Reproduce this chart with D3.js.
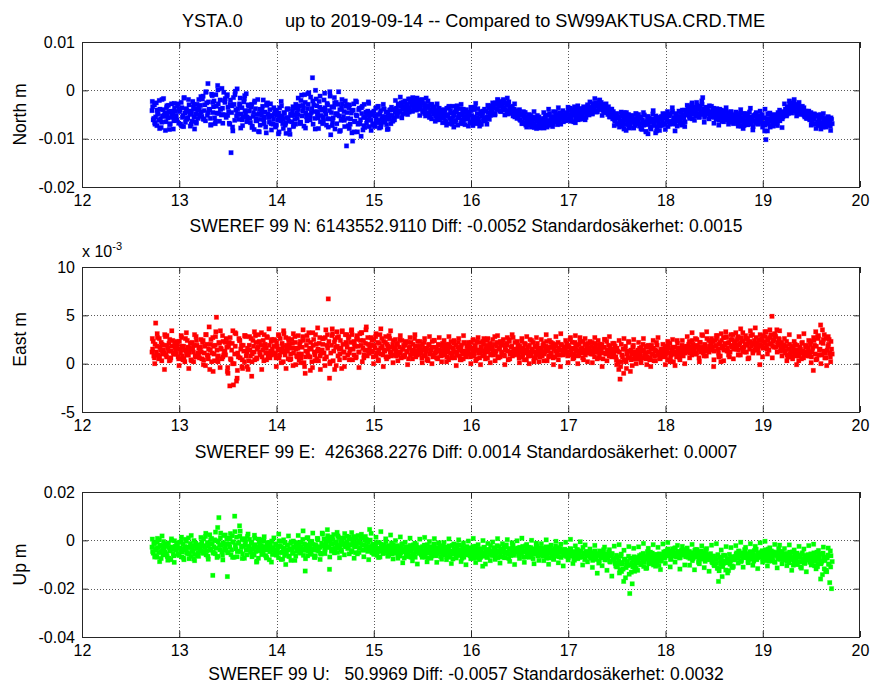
<!DOCTYPE html>
<html><head><meta charset="utf-8">
<script src="https://cdn.jsdelivr.net/npm/d3@7"></script>
<style>
body{margin:0;background:#fff}
text{font-family:"Liberation Sans",Arial,Helvetica,sans-serif;fill:#000}
</style>
</head><body>
<svg id="c" width="872" height="686"></svg>
<script>
// ---------- data ----------
const titleLeft = "YSTA.0";
const titleRight = "up to 2019-09-14 -- Compared to SW99AKTUSA.CRD.TME";
const xTicks = [12,13,14,15,16,17,18,19,20];
const northTicks = [0.01,0,-0.01,-0.02];
const eastTicks = [10,5,0,-5];
const upTicks = [0.02,0,-0.02,-0.04];
const yLabels = ["North m","East m","Up m"];
const xLabels = [
  "SWEREF 99 N: 6143552.9110 Diff: -0.0052 Standardosäkerhet: 0.0015",
  "SWEREF 99 E:  426368.2276 Diff: 0.0014 Standardosäkerhet: 0.0007",
  "SWEREF 99 U:   50.9969 Diff: -0.0057 Standardosäkerhet: 0.0032"
];
// observation epochs (decimal year minus 2000): sets A and B at tStep (B offset half a step), set C at 2*tStep
const tStart = 12.72, tStep = 0.0125;
// North residuals, mm
const northMM = [
-4.2,-6.1,-3.0,-5.5,-7.3,-4.8,-2.1,-5.9,-6.6,-4.0,-5.2,-8.3,-3.6,-5.7,-4.5,-6.9,-2.8,-5.0,-6.3,-4.4,
-5.3,-3.2,-6.8,-4.1,-2.5,-5.6,-7.5,-4.7,-3.8,-6.0,-1.9,-5.0,-4.3,-6.4,-3.5,-8.0,-4.9,-2.9,-5.8,-4.0,
-3.1,-5.4,-1.2,-4.2,-6.3,-2.6,1.4,-3.9,-5.8,-0.8,-4.6,-2.2,-6.9,-3.3,1.0,-4.8,-2.0,-5.1,-3.7,-0.4,
-2.5,-5.6,-0.9,-4.4,-7.0,-12.9,-3.2,-1.5,-6.2,-4.1,0.3,-5.0,-2.8,-7.8,-3.6,-5.5,-1.8,-4.7,-6.5,-3.0,
-4.3,-6.7,-2.9,-5.4,-8.1,-3.8,-5.9,-1.9,-4.8,-7.2,-5.1,-3.3,-6.1,-4.5,-8.8,-2.6,-5.6,-4.0,-6.9,-5.3,
-6.0,-4.4,-7.4,-5.2,-9.0,-3.6,-6.3,-5.5,-7.9,-4.7,-6.8,-3.9,-5.8,-8.2,-4.9,-6.5,-3.4,-5.1,-7.0,-4.6,
-5.0,-3.2,-6.6,-1.0,-4.3,-7.4,-2.5,-5.5,-3.8,-0.5,-6.1,-4.6,2.6,-3.0,-5.8,-1.8,-4.9,-7.9,-3.5,-5.2,
-3.9,-6.3,-0.6,-5.0,-2.7,-7.6,-4.2,-9.2,-3.4,-5.7,-1.5,-4.8,-6.9,-2.9,-5.3,-8.3,-3.7,-6.0,-4.4,-2.2,
-11.5,-5.8,-3.6,-7.0,-4.7,-10.5,-2.8,-6.4,-5.1,-8.6,-4.0,-6.9,-9.5,-3.3,-5.6,-7.7,-4.5,-6.1,-2.4,-5.4,
-6.2,-4.6,-7.3,-5.3,-3.7,-6.7,-5.0,-7.8,-4.2,-5.9,-6.5,-3.9,-5.5,-7.1,-4.8,-6.0,-5.2,-3.5,-6.4,-5.6,
-4.6,-3.7,-5.4,-3.1,-4.2,-2.6,-4.9,-3.4,-2.2,-4.0,-3.0,-1.8,-3.6,-2.5,-4.3,-2.0,-3.3,-2.7,-1.6,-3.9,
-2.4,-3.8,-1.9,-4.5,-3.0,-5.3,-3.6,-2.2,-4.8,-4.0,-5.9,-3.4,-4.6,-6.4,-4.2,-5.1,-3.7,-5.6,-4.9,-6.7,
-5.5,-4.1,-6.6,-5.0,-3.6,-5.8,-4.7,-7.0,-5.3,-4.4,-6.2,-3.2,-5.6,-4.9,-6.9,-5.1,-3.9,-6.0,-5.4,-4.6,
-5.9,-4.5,-6.8,-5.2,-7.3,-4.0,-6.1,-5.6,-3.8,-6.5,-5.0,-7.0,-4.7,-5.8,-6.3,-4.3,-5.5,-3.6,-4.9,-4.1,
-4.5,-3.6,-5.1,-2.9,-4.0,-3.3,-2.4,-4.4,-3.0,-1.9,-3.7,-2.6,-4.2,-3.1,-4.8,-3.5,-4.6,-5.3,-3.9,-5.0,
-4.9,-5.7,-4.3,-6.2,-5.0,-6.8,-5.4,-4.6,-6.5,-7.1,-5.8,-6.3,-7.6,-5.5,-6.9,-6.0,-7.3,-5.2,-6.6,-7.8,
-6.5,-7.3,-5.8,-6.9,-5.1,-7.6,-6.2,-4.8,-6.6,-5.5,-7.0,-5.9,-4.5,-6.1,-5.3,-6.7,-4.9,-5.6,-4.2,-5.8,
-5.4,-4.6,-6.2,-5.0,-3.7,-5.7,-4.3,-6.5,-4.9,-5.3,-3.9,-4.7,-6.0,-4.1,-5.1,-3.4,-4.5,-5.6,-3.8,-4.4,
-4.2,-3.5,-4.8,-3.0,-3.9,-2.6,-4.4,-3.3,-2.1,-3.7,-2.9,-4.1,-3.2,-4.6,-3.8,-5.0,-4.3,-5.5,-4.7,-5.9,
-5.6,-6.4,-4.9,-7.0,-5.8,-6.6,-4.5,-7.4,-6.1,-5.3,-8.3,-6.8,-5.0,-7.2,-6.3,-5.5,-7.7,-6.0,-4.8,-6.9,
-6.2,-7.4,-5.5,-8.1,-6.8,-5.1,-7.1,-6.4,-9.0,-5.8,-7.6,-6.5,-4.9,-7.0,-6.1,-8.4,-5.6,-6.9,-7.3,-5.4,
-6.3,-5.2,-7.1,-5.7,-4.4,-6.6,-5.0,-6.9,-3.6,-5.9,-6.2,-4.8,-7.4,-5.4,-6.0,-4.6,-5.5,-6.7,-4.1,-5.1,
-4.9,-3.8,-5.4,-4.2,-3.0,-5.0,-3.5,-4.6,-2.5,-4.0,-5.6,-3.3,-4.4,-1.5,-3.9,-5.2,-4.1,-3.6,-4.8,-5.5,
-4.4,-5.3,-3.7,-4.9,-6.0,-4.6,-5.7,-3.9,-5.1,-6.4,-4.8,-5.5,-4.2,-6.1,-5.0,-5.8,-4.5,-6.6,-5.3,-5.9,
-6.3,-5.1,-6.9,-5.6,-4.7,-6.5,-5.9,-7.3,-5.3,-6.2,-4.9,-6.7,-5.5,-7.0,-6.0,-5.2,-6.4,-4.6,-5.8,-6.8,
-5.6,-6.5,-5.0,-7.1,-8.4,-10.2,-5.8,-6.9,-4.8,-6.3,-5.4,-7.4,-6.1,-5.2,-6.7,-4.6,-5.9,-5.1,-4.4,-5.5,
-4.8,-3.9,-5.3,-3.4,-4.4,-2.7,-3.7,-4.2,-2.3,-3.5,-4.6,-3.0,-3.8,-5.0,-4.1,-3.3,-4.9,-5.5,-4.3,-5.8,
-5.2,-6.1,-4.6,-6.6,-5.7,-4.9,-6.9,-5.4,-7.3,-6.2,-5.0,-6.7,-7.6,-5.8,-6.4,-7.1,-5.5,-6.8,-7.4,-6.0
];
const northMMb = [
-3.4,-5.8,-7.0,-2.6,-4.9,-6.2,-3.9,-7.7,-5.3,-1.7,-4.6,-6.5,-5.0,-3.1,-7.1,-4.3,-5.6,-8.0,-3.7,-6.0,
-6.2,-2.8,-4.4,-7.0,-3.6,-5.2,-1.5,-6.6,-4.0,-5.7,-3.0,-7.4,-4.8,-2.3,-5.5,-3.9,-6.8,-4.2,-1.9,-5.1,
-4.5,-1.8,-6.0,-3.0,-0.3,-5.2,-2.4,-4.0,-7.1,-1.1,-3.4,-5.7,-0.9,-4.7,-2.8,-6.4,-3.9,0.4,-5.0,-2.1,
-5.1,-1.2,-3.5,-6.8,-2.0,-4.6,-8.4,-2.9,-0.2,-5.3,-3.8,-6.0,-1.6,-4.9,-7.3,-2.4,-4.2,-0.7,-5.8,-3.3,
-5.8,-3.5,-7.4,-4.6,-2.2,-6.3,-5.0,-8.5,-3.9,-6.0,-4.4,-2.0,-5.5,-7.6,-3.1,-4.9,-6.6,-2.8,-5.2,-7.0,
-5.0,-7.6,-4.1,-6.1,-8.6,-5.3,-3.2,-6.9,-4.6,-7.2,-5.6,-3.8,-6.4,-9.1,-5.1,-4.3,-7.3,-6.0,-3.7,-5.8,
-4.0,-6.9,-2.1,-5.3,-3.6,-0.9,-4.7,-6.3,-2.9,-5.1,-1.4,-3.8,-7.0,-4.4,0.0,-3.2,-5.7,-2.3,-6.5,-4.1,
-5.5,-2.0,-4.3,-7.2,-3.0,-5.9,-1.2,-4.6,-6.6,-3.5,-8.0,-2.5,-5.1,-0.3,-4.0,-6.2,-2.8,-5.4,-7.5,-3.3,
-4.6,-7.3,-3.0,-5.9,-8.8,-4.1,-6.5,-2.2,-5.3,-7.0,-3.7,-6.1,-4.8,-8.2,-2.9,-5.6,-6.8,-4.3,-7.5,-5.0,
-5.0,-6.9,-4.3,-7.5,-5.8,-3.4,-6.2,-4.8,-7.0,-5.4,-3.8,-6.6,-4.5,-8.1,-5.7,-4.1,-6.9,-5.2,-4.0,-6.1,
-3.9,-5.1,-2.8,-4.4,-3.3,-5.7,-2.5,-3.9,-4.8,-2.9,-3.6,-4.5,-2.2,-3.1,-1.5,-3.8,-2.4,-4.1,-3.0,-2.2,
-3.1,-2.0,-4.2,-2.7,-3.9,-1.6,-4.6,-3.3,-5.5,-2.9,-4.4,-5.0,-3.7,-5.4,-2.8,-4.7,-6.1,-4.1,-5.8,-4.5,
-4.8,-6.3,-3.7,-5.4,-6.9,-4.2,-5.9,-3.3,-5.1,-6.6,-4.5,-7.2,-5.3,-3.8,-6.1,-4.6,-5.7,-7.1,-4.0,-5.5,
-5.1,-6.6,-4.2,-6.1,-5.5,-3.5,-6.9,-4.8,-5.9,-7.4,-4.4,-5.4,-6.3,-3.9,-5.6,-7.0,-4.6,-6.0,-5.2,-3.2,
-3.5,-4.8,-2.6,-3.8,-2.0,-3.2,-4.3,-2.7,-3.6,-2.3,-4.1,-3.0,-4.9,-2.4,-3.9,-4.4,-3.3,-4.7,-5.5,-4.2,
-5.4,-4.6,-6.0,-5.1,-6.5,-4.4,-5.8,-7.2,-5.5,-6.1,-7.0,-5.2,-6.7,-6.0,-7.7,-5.6,-6.4,-7.4,-5.9,-6.9,
-7.0,-6.1,-7.8,-5.5,-6.4,-7.2,-5.2,-6.8,-5.9,-7.5,-5.4,-6.3,-5.0,-7.1,-5.8,-4.6,-6.0,-5.3,-6.5,-5.0,
-4.8,-5.9,-4.2,-5.4,-6.4,-4.5,-5.1,-3.4,-5.7,-4.3,-6.1,-5.0,-3.8,-5.3,-4.6,-5.9,-4.0,-4.9,-3.3,-5.1,
-3.8,-4.6,-2.7,-4.0,-3.2,-4.5,-2.9,-3.6,-4.0,-2.5,-3.4,-4.4,-3.6,-2.8,-4.2,-3.4,-4.8,-3.9,-5.2,-4.4,
-6.2,-5.1,-6.9,-5.5,-7.6,-6.3,-5.4,-6.8,-4.6,-7.1,-6.0,-5.7,-7.8,-6.4,-5.2,-6.7,-5.8,-7.3,-6.5,-5.6,
-6.9,-5.8,-7.8,-6.1,-7.2,-6.6,-8.6,-5.5,-7.0,-6.3,-8.0,-5.9,-7.3,-6.8,-5.3,-7.6,-6.2,-8.3,-6.0,-7.1,
-5.5,-6.9,-4.9,-6.1,-7.5,-5.3,-6.4,-4.6,-6.8,-5.6,-7.0,-5.1,-6.3,-4.3,-6.0,-7.2,-5.0,-5.8,-6.5,-4.7,
-4.2,-5.1,-3.4,-4.7,-5.9,-3.9,-4.4,-5.3,-3.1,-4.8,-3.7,-5.0,-2.9,-4.5,-5.6,-3.5,-4.9,-4.3,-3.2,-5.2,
-5.0,-4.1,-5.6,-4.7,-3.8,-5.3,-6.2,-4.4,-5.9,-5.0,-4.3,-6.0,-5.2,-4.6,-6.5,-5.5,-4.9,-5.8,-6.3,-5.1,
-5.9,-6.8,-5.0,-6.2,-7.4,-5.6,-4.8,-6.6,-5.4,-7.1,-6.0,-4.5,-6.3,-5.7,-7.5,-5.3,-6.7,-5.9,-7.0,-5.2,
-6.1,-5.3,-6.8,-5.7,-7.2,-6.4,-4.9,-6.0,-7.6,-5.5,-6.6,-5.0,-6.9,-5.8,-7.3,-5.2,-6.3,-4.7,-5.9,-4.9,
-5.1,-4.3,-3.7,-4.8,-3.0,-4.1,-3.4,-2.6,-3.9,-3.1,-4.4,-2.9,-4.2,-3.5,-4.7,-3.8,-5.2,-4.5,-5.0,-5.4,
-5.6,-4.8,-6.3,-5.3,-6.0,-7.0,-5.1,-6.5,-5.9,-6.8,-7.4,-5.6,-6.2,-7.0,-6.6,-5.9,-7.2,-6.3,-5.7,-6.9
];
const northMMc = [
-2.3,-6.7,-4.1,-7.9,-1.9,-5.4,-3.2,-8.1,-5.0,-2.7,-6.2,-3.9,-7.4,-1.6,-5.8,-4.4,-7.0,-2.9,-6.5,-3.5,
-1.3,-5.9,-0.4,-4.6,-7.2,-2.5,-6.4,0.1,-3.9,-6.8,-1.7,-5.2,-2.9,-7.6,-0.9,-4.8,-3.1,-6.1,-1.1,-5.5,
-3.2,-7.7,-2.5,-6.3,-8.6,-4.1,-6.9,-2.8,-5.6,-8.2,-3.6,-7.1,-4.7,-2.3,-6.0,-8.9,-3.9,-5.2,-7.5,-2.9,
-1.6,-6.6,-3.1,-7.8,-0.7,-5.3,-2.2,-8.0,-4.4,-1.2,-6.9,-3.6,-5.9,-0.3,-7.3,-2.6,-4.9,-8.5,-1.9,-6.2,
-3.0,-7.9,-4.2,-8.6,-2.4,-6.8,-3.6,-7.3,-5.1,-2.7,-8.3,-4.6,-6.4,-3.3,-7.6,-2.9,-5.7,-8.0,-4.0,-6.2,
-2.1,-4.6,-1.4,-3.9,-2.5,-5.0,-1.8,-4.3,-2.7,-3.6,-5.2,-2.2,-4.8,-3.1,-5.6,-2.9,-4.4,-6.1,-3.8,-5.3,
-4.0,-7.2,-3.3,-6.1,-7.6,-3.8,-5.7,-2.9,-6.8,-4.5,-7.4,-3.5,-6.5,-2.7,-5.9,-7.0,-4.3,-6.3,-3.1,-5.0,
-2.6,-4.9,-1.9,-4.2,-2.3,-5.1,-1.6,-3.7,-4.5,-2.8,-5.8,-4.0,-6.9,-4.6,-7.6,-5.0,-7.2,-4.4,-7.9,-5.5,
-7.4,-4.6,-6.8,-3.9,-7.2,-4.4,-6.5,-3.6,-7.0,-5.1,-6.3,-3.5,-5.9,-4.0,-6.7,-3.2,-5.4,-3.8,-6.1,-3.0,
-2.4,-4.9,-1.7,-4.4,-2.0,-5.2,-3.0,-4.6,-5.5,-3.9,-7.3,-4.8,-6.9,-5.0,-8.0,-4.6,-7.5,-5.3,-7.8,-4.9,
-5.0,-7.9,-4.6,-8.5,-5.4,-7.6,-4.2,-8.8,-5.7,-7.3,-4.8,-8.1,-5.2,-7.0,-4.4,-8.4,-5.9,-6.8,-4.1,-7.5,
-3.1,-5.8,-2.6,-6.2,-3.4,-5.5,-2.2,-6.6,-3.7,-5.9,-3.3,-6.8,-3.9,-7.2,-4.1,-6.5,-3.6,-7.0,-4.4,-6.9,
-4.5,-7.4,-4.0,-7.9,-4.8,-7.1,-3.7,-8.2,-5.0,-6.9,-4.3,-7.6,-3.9,-8.4,-4.7,-7.3,-5.2,-6.6,-4.1,-7.7,
-2.8,-5.0,-2.2,-4.7,-1.9,-5.3,-2.5,-4.4,-3.6,-5.8,-4.3,-7.2,-4.9,-7.9,-5.2,-8.0,-4.8,-7.6,-5.5,-8.3
];
// East residuals, mm
const eastMM = [
1.2,2.3,0.6,4.2,1.8,0.9,2.6,1.4,0.3,1.9,1.1,2.8,0.7,1.6,2.1,0.4,1.3,2.4,1.0,1.7,
1.0,2.0,0.5,1.5,2.9,0.8,1.8,0.2,1.3,2.4,0.9,1.6,0.4,2.2,1.2,3.0,0.7,1.9,1.1,0.6,
1.7,0.5,2.4,1.1,-0.2,2.0,0.8,3.8,1.4,0.2,2.7,1.0,1.9,4.8,0.6,2.2,-0.4,1.5,2.9,0.9,
1.3,2.6,-0.8,1.8,-2.3,0.4,2.1,-2.2,1.0,3.1,-1.5,0.7,2.4,1.5,-0.3,1.9,0.2,2.8,1.2,-0.6,
1.9,0.8,-1.3,2.4,1.2,2.9,0.5,1.7,2.2,0.9,3.2,1.4,0.3,2.0,1.6,2.7,1.1,0.6,2.3,1.5,
1.1,2.4,0.6,1.8,3.0,0.9,1.5,2.1,0.2,1.3,2.7,1.7,0.5,2.0,1.0,2.5,-0.2,1.6,2.2,0.8,
1.6,0.4,2.3,1.0,2.8,0.1,-1.0,1.9,1.2,3.2,0.7,1.5,-0.4,2.5,0.9,2.0,1.3,0.3,2.7,1.1,
1.4,2.6,0.5,3.5,1.9,6.7,-1.5,1.1,2.9,0.3,2.2,1.7,3.3,0.8,1.5,2.4,-0.5,2.0,1.2,3.0,
2.1,0.9,2.8,1.5,3.4,0.4,2.3,1.8,0.7,2.6,1.2,3.1,1.9,0.2,2.4,1.4,3.5,0.8,2.0,1.6,
1.3,2.4,0.7,1.9,2.8,1.1,0.4,2.1,1.6,2.6,0.9,1.4,2.2,0.5,1.8,2.9,1.2,0.8,2.0,1.5,
1.6,0.8,2.1,1.2,2.5,0.6,1.5,1.9,0.9,2.3,1.3,0.5,1.7,2.2,1.0,1.4,2.6,0.7,1.8,1.1,
1.0,1.8,0.6,1.4,2.2,0.9,1.6,0.3,2.0,1.2,1.7,0.7,2.4,1.1,1.5,0.5,1.9,1.3,0.8,2.1,
1.5,0.9,2.0,1.2,0.4,1.7,2.3,1.0,1.4,0.6,1.9,1.1,2.2,0.8,1.6,1.3,0.5,2.1,1.0,1.8,
1.2,2.0,0.7,1.6,2.4,1.0,1.8,0.5,1.4,2.2,1.1,1.7,0.8,2.6,1.3,1.9,0.6,1.5,2.1,0.9,
1.7,0.9,2.8,1.3,2.2,0.6,1.6,2.0,1.1,2.5,0.8,1.4,1.9,0.4,2.3,1.2,1.8,2.7,1.0,1.5,
1.1,1.9,0.6,1.5,2.3,0.9,1.3,2.0,0.4,1.7,1.2,2.5,0.8,1.4,0.2,1.8,1.0,2.1,1.3,0.7,
1.6,0.8,2.1,1.2,1.8,0.3,1.5,2.4,1.0,1.7,0.6,2.0,1.3,0.9,2.2,1.4,-0.3,1.9,1.1,1.6,
1.3,2.1,0.8,1.7,2.5,1.0,1.5,0.6,2.2,1.4,1.9,0.9,2.7,1.2,1.6,0.4,2.0,1.3,1.8,1.1,
1.6,1.0,2.2,1.3,0.7,1.9,1.2,2.4,0.9,1.5,2.0,0.5,1.7,1.1,2.3,1.4,0.8,1.8,1.2,2.1,
1.0,1.8,0.4,1.3,-0.6,-1.6,2.0,0.7,-1.0,1.5,0.2,1.1,2.3,0.6,1.4,-0.2,1.9,0.9,1.2,0.5,
1.0,1.6,0.5,1.3,2.0,0.8,1.1,-0.1,1.7,1.2,0.6,1.9,1.0,0.3,1.4,2.2,0.9,1.2,0.5,1.5,
1.4,0.7,1.8,1.1,0.4,1.6,2.1,0.9,1.3,0.2,1.7,1.0,2.4,1.2,0.6,1.5,1.9,0.8,1.3,1.6,
1.8,1.2,2.3,1.5,0.9,2.0,1.4,2.6,1.1,1.7,0.6,2.2,1.6,2.9,1.3,1.9,0.8,1.5,2.4,1.7,
2.0,1.4,-0.3,2.4,1.8,2.9,1.1,2.2,0.2,1.6,2.7,1.9,3.3,1.3,2.1,0.7,2.5,1.7,3.0,2.3,
2.2,1.5,2.8,1.9,0.9,2.4,3.2,1.7,2.0,1.2,2.6,0.6,2.3,1.8,3.0,2.1,1.4,2.7,1.9,1.1,
-0.1,2.4,1.8,2.9,2.1,3.3,1.5,2.6,2.0,3.0,4.9,2.3,1.7,2.8,3.5,1.9,2.5,1.3,2.2,1.6,
1.9,1.1,2.3,0.7,1.5,1.0,1.8,0.5,1.3,2.0,0.8,1.4,0.3,1.7,1.1,2.2,0.6,1.2,1.9,0.9,
1.6,0.8,2.3,1.2,-0.7,1.9,3.3,0.5,2.6,1.4,4.0,0.9,2.1,3.0,1.1,-0.2,1.8,2.5,0.7,1.5
];
const eastMMb = [
1.5,0.8,2.0,1.2,2.7,0.5,1.7,2.2,1.0,1.4,3.0,0.9,1.9,1.3,2.5,0.6,1.8,1.1,2.1,1.4,
1.6,0.7,2.3,1.1,1.8,0.4,1.4,2.6,0.9,1.7,1.2,2.1,0.3,1.5,1.9,0.8,2.4,1.0,1.6,1.3,
1.2,2.2,0.4,1.8,3.0,0.9,1.5,-0.6,2.5,1.1,1.8,0.3,3.3,1.4,0.8,2.1,1.6,0.5,2.3,1.2,
0.9,1.7,-1.0,2.2,0.5,1.4,3.4,0.0,1.8,-1.8,1.1,2.6,0.6,1.9,-0.5,1.3,2.9,0.8,1.6,0.3,
1.4,2.6,1.0,1.8,0.4,2.2,1.5,3.0,1.2,1.9,0.7,2.4,1.6,1.1,2.8,0.8,1.9,1.3,2.5,1.0,
1.8,1.0,2.2,1.4,0.6,2.6,1.2,1.7,3.1,0.9,1.9,1.3,2.4,0.4,1.6,2.1,1.1,2.8,1.5,0.7,
1.0,2.0,0.6,1.7,2.4,-0.3,1.3,2.9,0.8,1.6,2.2,0.2,1.9,1.2,3.0,0.5,1.5,2.1,-0.6,1.4,
2.0,1.1,2.7,0.7,1.6,2.3,0.2,1.9,3.1,1.3,2.5,-0.2,1.8,2.8,1.0,1.6,3.4,1.2,0.6,2.2,
1.7,2.6,1.1,2.2,3.0,1.5,2.0,0.6,2.9,1.8,1.2,2.4,3.2,1.6,0.9,2.1,1.4,2.7,1.1,1.9,
1.9,1.2,2.5,1.6,0.8,2.2,1.4,3.0,1.0,1.8,2.3,1.3,0.7,2.0,1.5,2.6,1.1,1.7,2.4,0.9,
1.3,2.0,0.9,1.7,1.1,2.4,1.5,0.7,1.9,1.2,2.2,1.6,0.9,1.4,2.0,1.0,1.8,1.3,2.3,1.5,
1.5,1.1,2.0,0.8,1.6,1.3,0.5,1.9,1.0,1.4,2.3,0.9,1.7,1.2,0.6,2.0,1.4,1.0,1.8,1.3,
1.2,1.8,0.7,1.5,2.0,1.1,0.8,1.6,2.4,1.2,0.9,1.7,1.4,0.4,1.9,1.0,2.2,1.3,0.7,1.5,
1.6,1.0,2.2,1.3,0.8,1.9,1.4,2.3,1.1,0.6,1.7,1.3,2.0,0.9,1.5,2.4,1.2,1.8,1.0,1.6,
1.3,2.0,1.1,1.8,0.7,1.5,2.3,1.2,1.9,0.9,1.6,2.1,1.3,2.5,1.0,1.7,0.8,1.4,2.2,1.2,
1.5,1.0,1.8,1.2,0.7,1.6,2.1,1.1,1.4,0.8,1.9,1.0,1.5,2.2,1.2,0.6,1.7,1.4,0.9,1.6,
1.2,1.9,1.0,1.6,2.3,1.3,0.8,1.7,1.1,2.1,1.5,0.7,1.8,1.2,1.6,0.9,2.0,1.4,1.0,1.7,
1.7,1.2,1.9,0.9,1.4,2.2,1.6,1.0,1.8,1.3,0.8,2.0,1.5,1.1,2.3,1.4,0.9,1.7,2.1,1.2,
1.3,1.8,1.0,1.6,2.1,1.2,1.5,0.6,1.9,1.3,1.1,1.7,2.5,1.0,1.4,1.9,1.2,0.8,1.5,1.3,
1.4,0.7,1.6,0.2,1.2,-0.3,0.9,1.5,0.4,1.8,1.0,0.6,1.3,-0.8,1.0,1.7,0.5,1.2,0.8,1.4,
1.3,0.9,1.7,0.6,1.4,1.1,1.8,0.7,1.2,0.4,1.5,1.0,1.6,0.8,1.3,1.9,1.1,0.6,1.4,1.0,
1.0,1.5,0.8,1.3,1.9,1.1,0.6,1.4,1.7,1.0,1.2,0.7,1.6,1.0,1.4,0.9,1.2,1.6,1.1,1.8,
1.4,2.0,1.1,1.7,2.4,1.3,1.8,1.0,1.9,1.5,2.2,1.2,1.7,1.1,2.0,1.5,2.6,1.3,1.8,2.1,
1.7,2.3,1.3,1.9,2.6,1.5,2.0,0.8,2.4,1.8,1.4,2.1,2.8,1.6,2.2,1.2,1.9,2.5,1.5,2.0,
1.8,2.5,1.4,2.1,2.7,1.6,2.3,1.2,2.6,1.9,2.2,1.5,2.9,2.0,1.3,2.4,1.8,2.2,1.6,2.5,
2.0,2.6,1.6,2.3,2.8,1.9,2.4,1.4,2.7,2.1,1.8,2.5,2.9,1.7,2.2,2.6,2.0,1.5,1.9,1.4,
1.3,1.8,0.9,1.5,2.0,1.2,0.7,1.6,1.0,1.4,1.9,1.1,0.8,1.5,2.1,1.3,1.0,1.7,1.2,0.8,
1.2,2.0,0.7,1.6,2.4,1.0,1.8,2.8,0.9,1.5,2.2,3.5,1.3,0.6,2.6,1.4,2.0,1.1,2.3,1.0
];
const eastMMc = [
2.6,0.0,3.1,0.7,2.0,-0.6,2.9,0.3,3.4,1.0,2.3,-0.2,2.7,0.5,3.2,-0.5,2.1,0.2,2.8,0.8,
2.5,-0.1,3.0,0.5,2.0,-0.8,2.8,0.2,3.4,0.7,2.2,-0.4,2.7,0.0,3.2,-0.7,2.4,0.4,2.9,-0.3,
2.8,0.2,3.3,0.6,2.3,-0.6,3.0,0.4,3.6,0.9,2.5,-0.3,2.9,0.1,3.4,-0.5,2.6,0.5,3.1,-0.1,
2.9,0.1,3.5,0.7,2.4,-0.7,3.2,0.3,3.7,0.8,2.6,-0.2,3.0,0.0,3.6,-0.6,2.7,0.4,3.3,-0.3,
3.0,0.4,3.5,0.9,2.5,-0.4,3.2,0.6,3.8,1.1,2.7,0.0,3.1,0.3,3.6,-0.3,2.8,0.7,3.4,0.1,
2.5,0.3,2.9,0.7,2.2,-0.1,2.7,0.5,3.0,0.9,2.3,0.1,2.6,0.4,2.8,0.0,2.4,0.6,2.7,0.2,
2.4,0.2,2.8,0.6,2.1,-0.2,2.6,0.4,2.9,0.8,2.2,0.0,2.5,0.3,2.7,-0.1,2.3,0.5,2.6,0.1,
2.5,0.3,2.9,0.7,2.2,-0.1,2.7,0.5,3.0,0.9,2.3,0.1,2.6,0.4,2.8,0.0,2.4,0.6,2.7,0.2,
2.5,0.3,3.0,0.7,2.2,-0.1,2.8,0.4,3.1,0.9,2.4,0.1,2.7,0.5,2.9,0.0,2.3,0.6,2.6,0.2,
2.3,0.1,2.7,0.5,2.0,-0.3,2.5,0.3,2.8,0.7,2.1,-0.1,2.4,0.2,2.6,-0.5,2.2,0.4,2.5,0.0,
2.2,0.1,2.6,0.5,1.9,-0.3,2.4,0.3,2.7,0.7,2.0,-0.1,2.3,0.2,2.5,-0.2,2.1,0.4,2.4,0.0,
2.8,0.6,3.2,1.0,2.5,0.2,3.0,0.8,3.3,1.2,2.6,0.4,2.9,0.7,3.1,0.3,2.7,0.9,3.0,0.5,
3.2,0.9,3.6,1.3,2.9,0.5,3.4,1.1,3.7,1.5,3.0,0.7,3.3,1.0,3.5,0.6,3.1,1.2,3.4,0.8,
2.6,0.3,3.0,0.7,2.3,-0.1,2.8,0.5,3.1,0.9,2.4,0.1,2.7,0.4,2.9,0.0,2.5,0.6,2.8,0.2
];
// Up residuals, mm
const upMM = [
-2.8,-5.3,-1.0,-4.1,-6.9,-3.0,0.2,-4.7,-2.2,-6.0,-3.6,-1.5,-5.6,-8.2,-2.9,-4.4,0.6,-3.8,-6.4,-2.5,
-4.0,-1.8,-5.9,-3.2,-0.4,-4.8,-7.3,-2.6,-3.9,-5.4,1.0,-3.0,-6.6,-2.1,-4.5,-8.4,-1.2,-3.4,-5.1,-2.4,
-3.1,-0.7,-5.0,-2.2,1.6,-4.3,-6.6,-1.4,-3.6,0.8,-14.5,-2.7,-5.5,-0.2,5.3,9.4,-3.9,-1.9,-6.2,2.0,
-1.6,-4.2,-15.0,0.9,-2.8,-5.9,1.9,-0.8,10.0,-3.5,-6.8,-1.2,6.0,-4.6,0.3,-2.4,-7.4,-0.5,-3.8,2.6,
-2.5,-4.9,-0.9,-3.7,-6.1,-1.8,-9.0,-3.2,0.5,-4.3,-2.1,-5.6,-0.3,-3.9,-7.0,-2.7,-1.2,-4.7,-3.4,-5.9,
-3.1,-5.5,-1.6,-4.4,-7.2,-2.4,-0.5,-4.9,-3.3,-6.3,-10.0,-2.0,-4.0,-6.7,-1.3,-3.7,-5.2,-2.8,-0.9,-4.6,
-3.5,-1.1,-5.0,-2.6,0.4,-4.2,-12.7,-2.0,-6.4,-3.3,-0.6,-4.8,-1.7,-3.9,-7.1,-2.3,0.8,-4.4,-2.9,-5.7,
3.0,-1.9,-4.0,-0.4,-2.8,1.2,-12.0,-1.5,-3.6,0.3,-5.2,-1.0,-2.4,1.8,-3.1,-0.7,-4.6,-1.8,0.9,-2.6,
-1.2,-3.4,0.5,-2.0,-4.8,-0.6,1.6,-2.7,-1.5,-5.6,-0.1,-3.0,1.1,-1.8,-4.1,0.2,-2.4,-3.7,-0.8,4.5,
-3.0,-5.1,-1.6,-3.9,-2.4,-6.2,-3.3,-0.9,-4.6,-2.8,-5.5,-1.9,-4.1,-3.2,-6.6,-2.2,-4.4,-1.1,-3.6,-5.0,
-3.6,-5.4,-2.2,-4.5,-6.5,-3.1,-1.4,-4.8,-3.8,-6.0,-2.7,-5.1,-4.2,-7.0,-3.4,-1.9,-5.6,-4.0,-2.9,-4.7,
-4.9,-3.0,-6.1,-4.2,-2.0,-5.3,-3.6,-7.2,-4.5,-2.6,-5.8,-3.9,-1.5,-4.7,-6.4,-3.3,-5.0,-2.3,-4.1,-5.7,
-4.1,-6.0,-2.8,-5.1,-3.5,-7.0,-4.4,-2.1,-5.6,-4.8,-6.5,-3.2,-5.3,-1.9,-4.6,-7.4,-3.8,-5.9,-4.2,-2.6,
-5.0,-3.3,-6.4,-4.5,-2.5,-5.7,-4.1,-7.2,-3.6,-5.2,-6.6,-4.0,-10.7,-2.9,-5.5,-4.3,-6.9,-3.8,-5.0,-4.7,
-4.2,-6.1,-3.0,-5.3,-2.2,-4.7,-6.8,-3.6,-5.0,-4.0,-7.1,-2.7,-4.9,-5.8,-3.4,-6.3,-4.4,-2.0,-5.5,-3.9,
-4.8,-3.2,-6.0,-4.1,-5.4,-2.5,-4.6,-6.9,-3.7,-5.1,-2.9,-4.4,-6.4,-3.5,-5.7,-4.0,-1.8,-5.0,-3.3,-6.2,
-5.1,-3.6,-6.5,-4.3,-2.7,-5.6,-4.9,-7.3,-3.9,-5.3,-6.1,-4.0,-2.4,-5.8,-4.6,-6.8,-3.4,-5.0,-4.4,-6.3,
-5.0,-6.7,-4.2,-5.9,-3.5,-6.3,-5.2,-7.6,-4.7,-6.0,-3.9,-5.5,-7.1,-4.5,-6.6,-5.3,-8.0,-4.8,-6.2,-5.7,
-6.0,-7.4,-5.1,-6.8,-4.6,-7.9,-6.3,-5.5,-8.5,-6.1,-7.0,-4.9,-6.6,-8.1,-5.8,-7.3,-6.4,-9.0,-5.6,-7.7,
-7.5,-9.6,-6.2,-10.8,-8.3,-12.1,-5.7,-9.1,-17.0,-7.8,-11.3,-8.7,-6.6,-22.0,-10.2,-18.0,-8.0,-12.8,-9.4,-7.1,
-8.6,-6.3,-10.1,-7.2,-5.4,-9.0,-7.7,-11.5,-6.0,-8.2,-4.9,-7.4,-9.6,-6.7,-8.8,-5.8,-7.0,-10.4,-6.4,-7.9,
-6.2,-4.8,-7.1,-5.5,-3.9,-6.4,-5.0,-7.7,-4.4,-5.9,-3.3,-6.6,-5.2,-4.6,-7.3,-5.7,-4.1,-6.0,-5.4,-6.8,
-5.5,-7.0,-4.6,-6.4,-5.1,-7.6,-6.0,-3.8,-6.7,-5.3,-8.2,-5.8,-4.4,-7.2,-6.2,-8.7,-5.6,-7.4,-6.5,-8.0,
-7.4,-9.3,-6.5,-10.2,-8.0,-11.6,-17.0,-7.0,-9.8,-15.0,-6.2,-8.6,-12.3,-7.6,-9.0,-5.8,-8.3,-10.6,-6.9,-7.8,
-6.6,-5.2,-7.5,-4.6,-6.1,-8.3,-5.5,-7.0,-4.0,-6.4,-5.8,-7.8,-4.9,-6.9,-5.3,-8.6,-6.2,-3.7,-7.2,-5.6,
-5.4,-7.1,-4.3,-6.5,-5.7,-8.4,-6.0,-3.6,-7.5,-5.1,-6.8,-4.8,-8.9,-6.2,-5.3,-7.6,-4.5,-6.6,-5.9,-8.0,
-6.5,-8.2,-5.4,-7.4,-9.3,-6.0,-7.8,-4.8,-8.6,-6.8,-5.7,-10.0,-7.1,-6.2,-8.9,-5.2,-7.6,-9.6,-6.4,-7.2,
-7.0,-9.1,-5.6,-8.2,-6.4,-10.5,-7.7,-4.9,-9.5,-6.8,-16.0,-8.6,-5.3,-11.8,-7.3,-13.0,-6.1,-9.9,-4.4,-20.0
];
const upMMb = [
-4.6,-1.4,-6.3,-3.3,0.8,-5.1,-2.0,-7.5,-3.8,-0.5,-4.9,-2.5,-6.7,-1.1,-4.2,-8.0,-2.8,-5.6,-0.2,-3.6,
-2.2,-5.7,-0.8,-4.3,-6.9,-1.6,-3.5,0.4,-5.0,-2.8,-7.6,-1.3,-4.7,-3.1,-0.1,-5.9,-2.4,-6.4,-1.9,-4.4,
-1.8,-4.6,0.6,-3.0,-6.0,-0.9,-2.5,2.3,-4.1,-1.5,-5.3,0.2,-3.3,-7.1,-0.6,-2.2,3.0,-4.8,-1.0,-3.6,
-3.0,0.4,-5.1,-1.5,2.8,-3.9,-0.6,-7.0,-2.1,1.3,-4.5,-0.9,3.8,-2.8,-5.6,0.7,-1.9,-4.0,1.6,-2.6,
-3.9,-0.9,-5.5,-2.2,0.9,-4.6,-2.9,-7.4,-1.5,-3.6,0.2,-5.2,-2.6,-6.3,-1.0,-4.0,-8.0,-2.0,-0.3,-3.3,
-4.2,-1.5,-6.0,-3.0,-0.2,-5.1,-2.6,-7.8,-3.7,-1.0,-4.8,-2.1,-6.5,-3.4,-0.6,-5.4,-2.9,-8.3,-1.7,-4.0,
-2.4,-4.8,-0.8,-3.7,-6.2,-1.5,-3.1,1.0,-4.5,-2.0,-5.8,-0.4,-3.4,-7.0,-1.8,-4.1,0.2,-2.7,-5.3,-1.2,
-2.3,0.6,-3.7,-1.1,1.9,-2.9,-0.2,-4.5,-1.6,2.4,-3.3,-0.7,-5.0,1.1,-2.1,-3.9,0.0,-1.4,2.8,-2.6,
-0.6,-2.9,1.3,-1.7,-4.2,0.4,-2.3,-5.1,-0.9,2.0,-3.2,-1.2,0.9,-3.9,-1.9,1.6,-0.3,-4.6,-2.5,0.1,
-4.1,-2.2,-5.8,-3.0,-0.9,-4.7,-3.4,-6.9,-1.6,-3.8,-5.2,-2.5,-0.5,-4.4,-6.1,-2.9,-3.7,-5.6,-1.9,-4.3,
-4.4,-2.5,-6.1,-3.3,-5.2,-1.6,-4.0,-7.3,-2.8,-4.9,-3.6,-6.6,-2.1,-4.5,-5.8,-3.0,-7.0,-1.8,-4.2,-5.4,
-3.8,-5.9,-2.6,-4.7,-6.9,-3.4,-1.8,-5.2,-4.0,-7.4,-2.9,-4.5,-6.2,-3.1,-5.5,-1.3,-4.8,-6.7,-3.6,-2.4,
-5.3,-3.0,-6.7,-4.2,-2.3,-5.8,-4.9,-7.7,-3.5,-5.1,-1.8,-4.4,-6.3,-3.8,-5.6,-2.7,-7.0,-4.6,-3.2,-6.0,
-4.4,-6.2,-3.1,-5.5,-7.4,-4.0,-2.4,-5.9,-4.7,-8.0,-3.5,-5.2,-6.6,-2.9,-4.9,-7.1,-3.9,-5.7,-2.2,-6.3,
-5.0,-3.3,-6.4,-4.4,-7.2,-2.6,-5.6,-4.1,-6.9,-3.0,-5.3,-1.9,-4.8,-7.5,-3.7,-5.9,-2.8,-6.2,-4.5,-3.4,
-4.1,-6.2,-2.9,-5.3,-3.6,-7.0,-4.8,-2.2,-5.9,-4.3,-6.7,-3.0,-5.0,-7.6,-3.8,-5.5,-2.5,-6.4,-4.6,-3.2,
-4.5,-6.3,-3.3,-5.6,-7.4,-4.0,-5.1,-2.7,-6.0,-4.7,-7.8,-3.5,-5.4,-6.6,-3.0,-4.9,-7.1,-4.2,-5.8,-3.7,
-6.0,-4.3,-7.2,-5.1,-3.6,-6.5,-4.8,-8.2,-5.6,-3.9,-7.0,-5.3,-4.4,-6.8,-2.9,-5.8,-7.5,-4.6,-6.3,-5.0,
-7.0,-5.4,-8.3,-6.2,-4.4,-7.5,-6.0,-9.4,-5.2,-7.2,-6.6,-3.9,-8.0,-5.8,-7.1,-4.8,-8.7,-6.3,-5.5,-7.8,
-8.4,-10.6,-7.0,-9.6,-13.5,-6.5,-9.9,-11.9,-7.8,-15.5,-8.9,-10.4,-14.0,-7.4,-9.2,-11.0,-6.8,-10.1,-8.2,-12.4,
-7.1,-9.3,-5.9,-8.4,-10.8,-6.6,-7.8,-4.7,-9.7,-6.9,-8.1,-5.3,-10.2,-7.5,-6.0,-9.0,-7.3,-5.6,-8.6,-6.8,
-5.9,-7.4,-4.5,-6.3,-3.6,-5.7,-7.9,-4.9,-6.5,-5.2,-3.1,-6.9,-4.7,-5.8,-7.1,-4.2,-6.1,-5.0,-3.8,-6.4,
-6.3,-4.9,-7.5,-5.4,-8.4,-6.1,-4.3,-7.0,-5.7,-9.1,-6.6,-4.7,-7.8,-5.1,-6.8,-3.9,-8.0,-6.0,-7.3,-5.5,
-8.8,-6.6,-10.5,-7.3,-9.6,-5.9,-12.6,-8.3,-7.0,-10.9,-8.6,-6.2,-9.3,-13.5,-7.7,-9.9,-6.8,-11.3,-8.1,-7.2,
-5.7,-7.4,-4.4,-6.6,-8.8,-5.2,-6.9,-3.9,-7.2,-5.5,-9.3,-6.3,-4.7,-7.7,-5.9,-4.2,-6.8,-8.0,-5.1,-6.5,
-6.4,-4.8,-7.7,-5.6,-3.9,-6.9,-5.2,-8.6,-6.1,-4.4,-7.3,-5.8,-9.1,-5.0,-6.7,-3.5,-7.9,-6.0,-4.6,-7.0,
-7.4,-5.8,-8.7,-6.6,-4.9,-8.0,-7.1,-10.3,-6.2,-7.9,-5.3,-8.9,-6.9,-11.0,-5.7,-7.6,-9.3,-6.4,-8.2,-5.9,
-8.0,-6.2,-9.6,-7.1,-5.2,-8.7,-6.6,-10.9,-7.7,-5.7,-9.2,-14.2,-6.9,-8.4,-12.4,-7.3,-9.8,-17.5,-6.4,-8.8
];
const upMMc = [
0.5,-6.9,-0.8,-8.8,1.8,-5.9,-1.6,-7.4,0.0,-9.1,-1.2,-6.3,1.3,-8.0,-0.4,-5.6,2.0,-7.7,-1.9,-6.6,
1.2,-5.4,2.9,-7.8,0.3,-4.9,3.4,-6.6,1.0,-8.1,2.2,-5.1,0.6,-7.0,3.6,-4.6,1.7,-7.5,0.1,-6.0,
0.4,-6.8,2.1,-8.6,-0.5,-5.9,1.5,-7.3,-0.9,-9.0,1.0,-6.1,2.6,-7.9,0.2,-5.6,1.8,-8.3,-0.3,-6.5,
2.0,-5.3,3.9,-7.6,1.1,-4.8,3.0,-6.4,0.7,-7.9,2.6,-5.5,4.4,-6.9,1.4,-4.6,3.3,-7.2,0.9,-6.0,
1.7,-5.6,3.2,-7.4,0.8,-5.0,2.5,-6.8,0.4,-8.0,2.9,-5.3,1.3,-7.1,3.6,-4.9,0.6,-6.2,2.2,-7.7,
-0.1,-7.4,1.4,-9.3,-0.8,-6.7,0.9,-8.5,-1.2,-9.8,0.5,-7.0,1.2,-8.9,-0.5,-6.5,0.7,-9.1,-1.0,-7.8,
-0.9,-8.0,0.6,-9.6,-1.5,-7.3,0.2,-8.8,-1.1,-10.1,-0.3,-7.6,0.8,-9.2,-1.8,-7.1,-0.1,-9.8,-1.3,-8.4,
-0.7,-7.9,0.7,-9.4,-1.4,-7.2,0.3,-8.7,-1.0,-10.0,-0.2,-7.5,0.9,-9.1,-1.7,-7.0,0.0,-9.7,-1.2,-8.3,
-1.4,-8.4,0.2,-9.9,-2.0,-7.8,-0.4,-9.3,-1.6,-10.6,-0.8,-8.1,0.4,-9.6,-2.3,-7.6,-0.6,-10.2,-1.9,-8.9,
-3.6,-11.2,-2.1,-13.6,-4.4,-10.5,-2.8,-12.4,-3.9,-14.8,-2.4,-11.0,-1.8,-12.9,-4.1,-10.3,-2.6,-13.2,-3.3,-11.6,
-2.7,-9.8,-1.3,-11.6,-3.3,-9.2,-1.8,-10.7,-2.9,-12.1,-1.5,-9.5,-0.9,-11.0,-3.5,-9.0,-2.1,-11.9,-2.5,-10.2,
-3.2,-10.3,-1.7,-12.2,-3.8,-9.7,-2.3,-11.3,-3.4,-12.8,-2.0,-10.0,-1.4,-11.6,-4.0,-9.5,-2.6,-12.5,-3.0,-10.8,
-2.2,-9.4,-0.8,-11.1,-2.9,-8.7,-1.4,-10.3,-2.5,-11.7,-1.0,-9.0,-0.4,-10.6,-3.1,-8.5,-1.7,-11.4,-2.0,-9.7,
-3.4,-10.5,-1.9,-12.4,-4.0,-9.9,-2.5,-11.5,-3.6,-13.0,-2.2,-10.2,-1.6,-11.8,-4.2,-9.7,-2.8,-12.7,-3.2,-11.0
];

// ---------- layout ----------
const svg = d3.select("#c");
const L = 82, R = 860, PH = 145;
const x = d3.scaleLinear().domain([12,20]).range([L,R]);
// each set: values, epoch offset (in steps), epoch spacing (in steps)
const panels = [
  {top:42,  sets:[[northMM,0,1],[northMMb,0.5,1],[northMMc,0.25,2]], conv:v=>v/1000, domain:[-0.02,0.01], ticks:northTicks, color:"#0000ff", xlabY:232},
  {top:267, sets:[[eastMM,0,1],[eastMMb,0.5,1],[eastMMc,0.25,2]],     conv:v=>v,      domain:[-5,10],      ticks:eastTicks,  color:"#ff0000", xlabY:458, exp:true},
  {top:492, sets:[[upMM,0,1],[upMMb,0.5,1],[upMMc,0.25,2]],           conv:v=>v/1000, domain:[-0.04,0.02], ticks:upTicks,    color:"#00ff00", xlabY:680}
];
const axisCol = "#262626", gridCol = "#5a5a5a";

panels.forEach((p,pi)=>{
  const y = d3.scaleLinear().domain(p.domain).range([p.top+PH, p.top]);
  const g = svg.append("g");
  // grid
  g.append("g").selectAll("line").data(xTicks.filter(t=>t>12&&t<20)).join("line")
    .attr("x1",d=>Math.round(x(d))+0.5).attr("x2",d=>Math.round(x(d))+0.5).attr("y1",p.top).attr("y2",p.top+PH)
    .attr("stroke",gridCol).attr("stroke-width",1).attr("stroke-dasharray","1,2");
  g.append("g").selectAll("line").data(p.ticks.filter(t=>t>p.domain[0]&&t<p.domain[1])).join("line")
    .attr("y1",d=>Math.round(y(d))+0.5).attr("y2",d=>Math.round(y(d))+0.5).attr("x1",L).attr("x2",R)
    .attr("stroke",gridCol).attr("stroke-width",1).attr("stroke-dasharray","1,2");
  // points
  p.sets.forEach(([vals,off,sp])=>{
    g.append("g").selectAll("rect").data(vals).join("rect")
      .attr("x",(d,i)=>x(tStart+(i*sp+off)*tStep)-2.2).attr("y",d=>y(p.conv(d))-2.2)
      .attr("width",4.4).attr("height",4.4)
      .attr("fill",p.color).attr("stroke",p.color).attr("stroke-opacity",0.3).attr("stroke-width",0.8);
  });
  // axes
  const ax = (gen,tr)=>{
    const a = g.append("g").attr("transform",tr).call(gen);
    a.select(".domain").remove();
    a.selectAll(".tick line").attr("stroke",axisCol);
    a.selectAll("text").style("font-size","16px").style("font-family",'"Liberation Sans",Arial,sans-serif').attr("fill","#000");
    return a;
  };
  ax(d3.axisBottom(x).tickValues(xTicks).tickFormat(d3.format("d")).tickSize(-6).tickPadding(8), `translate(0,${p.top+PH})`);
  ax(d3.axisTop(x).tickValues(xTicks).tickFormat("").tickSize(-6), `translate(0,${p.top})`);
  ax(d3.axisLeft(y).tickValues(p.ticks).tickFormat(d=>String(d)).tickSize(-6).tickPadding(7), `translate(${L},0)`);
  ax(d3.axisRight(y).tickValues(p.ticks).tickFormat("").tickSize(-6), `translate(${R},0)`);
  g.append("rect").attr("x",L+0.5).attr("y",p.top+0.5).attr("width",R-L-1).attr("height",PH)
    .attr("fill","none").attr("stroke",axisCol).attr("stroke-width",1);
  // labels
  g.append("text").attr("transform",`translate(26,${p.top+PH/2}) rotate(-90)`)
    .attr("text-anchor","middle").style("font-size","17.5px").text(yLabels[pi]);
  g.append("text").attr("x",466).attr("y",p.xlabY).attr("text-anchor","middle")
    .style("font-size","17.5px").style("white-space","pre").text(xLabels[pi]);
  if(p.exp){
    const t = g.append("text").attr("x",L).attr("y",p.top-10).style("font-size","16px");
    t.append("tspan").text("x 10");
    t.append("tspan").attr("dy",-7).style("font-size","11px").text("-3");
  }
});
// title
svg.append("text").attr("x",182).attr("y",27).style("font-size","18px").text(titleLeft);
svg.append("text").attr("x",285).attr("y",27).style("font-size","18px")
  .attr("textLength",480).attr("lengthAdjust","spacingAndGlyphs").text(titleRight);
</script>
</body></html>
